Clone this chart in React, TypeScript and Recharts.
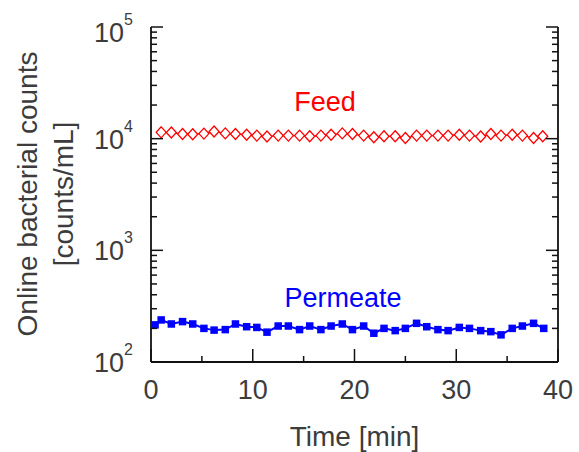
import React from 'react';
import { LineChart, Line, XAxis, YAxis, Customized } from 'recharts';

// Sampling times [min]
const feedTimes = [1.0, 2.0, 3.1, 4.1, 5.2, 6.2, 7.3, 8.3, 9.4, 10.4, 11.4, 12.5, 13.5, 14.6, 15.6, 16.7, 17.7, 18.8, 19.8, 20.9, 21.9, 22.9, 24.0, 25.0, 26.1, 27.1, 28.2, 29.2, 30.3, 31.3, 32.4, 33.4, 34.4, 35.5, 36.5, 37.6, 38.5];
const permeateTimes = [0.4, 1.0, 2.0, 3.1, 4.1, 5.2, 6.2, 7.3, 8.3, 9.4, 10.4, 11.4, 12.5, 13.5, 14.6, 15.6, 16.7, 17.7, 18.8, 19.8, 20.9, 21.9, 22.9, 24.0, 25.0, 26.1, 27.1, 28.2, 29.2, 30.3, 31.3, 32.4, 33.4, 34.4, 35.5, 36.5, 37.6, 38.6];

// Online bacterial counts [counts/mL]
const feedCounts = [11400, 11350, 11000, 10950, 11100, 11600, 11150, 11000, 10850, 10650, 10450, 10650, 10650, 10650, 10500, 10650, 10850, 11150, 11000, 10650, 10300, 10500, 10500, 10150, 10650, 10650, 10650, 10650, 10850, 10650, 10450, 11000, 10650, 10850, 10650, 10150, 10500];
const permeateCounts = [215, 238, 219, 230, 219, 200, 193, 195, 219, 207, 204, 185, 210, 210, 195, 210, 195, 210, 219, 195, 210, 181, 200, 191, 200, 222, 207, 195, 191, 204, 200, 191, 187, 175, 200, 210, 222, 200];

const xMajorTicks = [0, 10, 20, 30, 40];
const xTicks = [0, 5, 10, 15, 20, 25, 30, 35, 40];
const yTicks = [
  100, 200, 300, 400, 500, 600, 700, 800, 900,
  1000, 2000, 3000, 4000, 5000, 6000, 7000, 8000, 9000,
  10000, 20000, 30000, 40000, 50000, 60000, 70000, 80000, 90000,
  100000,
];

const feedData = feedTimes.map((t, i) => ({ t, v: feedCounts[i] }));
const permeateData = permeateTimes.map((t, i) => ({ t, v: permeateCounts[i] }));

const FONT = '"Liberation Sans", Arial, Helvetica, sans-serif';
const TEXT = '#3c3c3c';
const FRAME = '#111';
const FEED = '#ff0000';
const PERM = '#0000ff';

const isMajorX = (v: number) => xMajorTicks.includes(v);
const decade = (v: number) => {
  const e = Math.round(Math.log10(v));
  return Math.abs(Math.pow(10, e) - v) < 1e-6 ? e : null;
};

const BottomTick = (props: any) => {
  const { x, y, payload } = props;
  const major = isMajorX(payload.value);
  return (
    <g>
      <line x1={x} x2={x} y1={y} y2={y - (major ? 13 : 6)} stroke={FRAME} strokeWidth={1.5} />
      {major && (
        <text x={x} y={y + 37} textAnchor="middle" fontSize={27} fill={TEXT} fontFamily={FONT}>
          {payload.value}
        </text>
      )}
    </g>
  );
};

const TopTick = (props: any) => {
  const { x, y, payload } = props;
  const major = isMajorX(payload.value);
  return <line x1={x} x2={x} y1={y} y2={y + (major ? 13 : 6)} stroke={FRAME} strokeWidth={1.5} />;
};

const LeftTick = (props: any) => {
  const { x, y, payload } = props;
  const e = decade(payload.value);
  const major = e !== null;
  const base = y + 10 + (e === 5 ? 5 : 0);
  return (
    <g>
      <line x1={x} x2={x + (major ? 12 : 6)} y1={y} y2={y} stroke={FRAME} strokeWidth={1.5} />
      {major && (
        <text x={x - 18} y={base} textAnchor="end" fontSize={27} fill={TEXT} fontFamily={FONT}>
          10
          <tspan fontSize={16} dy={-17}>{e}</tspan>
        </text>
      )}
    </g>
  );
};

const RightTick = (props: any) => {
  const { x, y, payload } = props;
  const major = decade(payload.value) !== null;
  return <line x1={x} x2={x - (major ? 12 : 6)} y1={y} y2={y} stroke={FRAME} strokeWidth={1.5} />;
};

const FeedDot = (props: any) => {
  const { cx, cy, index } = props;
  if (cx == null || cy == null) return <g key={`fd-${index}`} />;
  const w = 5;
  const h = 5.5;
  return (
    <path
      key={`fd-${index}`}
      d={`M${cx},${cy - h} L${cx + w},${cy} L${cx},${cy + h} L${cx - w},${cy} Z`}
      fill="#fff"
      stroke={FEED}
      strokeWidth={1.3}
    />
  );
};

const PermDot = (props: any) => {
  const { cx, cy, index } = props;
  if (cx == null || cy == null) return <g key={`pd-${index}`} />;
  const s = 7.5;
  return <rect key={`pd-${index}`} x={cx - s / 2} y={cy - s / 2} width={s} height={s} fill={PERM} />;
};

const Annotations = () => (
  <g fontFamily={FONT}>
    <text x={325} y={111} textAnchor="middle" fontSize={27} fill={FEED}>Feed</text>
    <text x={343} y={307} textAnchor="middle" fontSize={27} fill={PERM}>Permeate</text>
    <text transform="translate(37,194) rotate(-90)" textAnchor="middle" fontSize={28} fill={TEXT}>
      Online bacterial counts
    </text>
    <text transform="translate(73,194) rotate(-90)" textAnchor="middle" fontSize={28} fill={TEXT}>
      [counts/mL]
    </text>
  </g>
);

export default function App() {
  return (
    <div style={{ position: 'absolute', left: 0, top: 0, width: 579, height: 452, background: '#fff' }}>
      <LineChart width={579} height={452} margin={{ top: 27, right: 0, bottom: 0, left: 0 }}>
        <XAxis
          dataKey="t"
          type="number"
          domain={[0, 40]}
          ticks={xTicks}
          interval={0}
          allowDataOverflow
          height={90}
          tickSize={0}
          tickMargin={0}
          tick={<BottomTick />}
          axisLine={{ stroke: FRAME, strokeWidth: 1.8 }}
          label={{ value: 'Time [min]', position: 'insideBottom', offset: 6, fontSize: 28, fill: TEXT, fontFamily: FONT }}
        />
        <XAxis
          xAxisId="top"
          dataKey="t"
          type="number"
          orientation="top"
          domain={[0, 40]}
          ticks={xTicks}
          interval={0}
          allowDataOverflow
          height={0}
          tickSize={0}
          tickMargin={0}
          tick={<TopTick />}
          axisLine={{ stroke: FRAME, strokeWidth: 1.8 }}
        />
        <YAxis
          dataKey="v"
          scale="log"
          domain={[100, 100000]}
          ticks={yTicks}
          interval={0}
          allowDataOverflow
          width={151}
          tickSize={0}
          tickMargin={0}
          tick={<LeftTick />}
          axisLine={{ stroke: FRAME, strokeWidth: 1.8 }}
        />
        <YAxis
          yAxisId="right"
          orientation="right"
          scale="log"
          domain={[100, 100000]}
          ticks={yTicks}
          interval={0}
          allowDataOverflow
          width={21}
          tickSize={0}
          tickMargin={0}
          tick={<RightTick />}
          axisLine={{ stroke: FRAME, strokeWidth: 1.8 }}
        />
        <Line
          data={feedData}
          dataKey="v"
          stroke={FEED}
          strokeWidth={1.3}
          dot={FeedDot}
          activeDot={false}
          isAnimationActive={false}
        />
        <Line
          data={permeateData}
          dataKey="v"
          stroke={PERM}
          strokeWidth={2}
          dot={PermDot}
          activeDot={false}
          isAnimationActive={false}
        />
        <Customized component={Annotations} />
      </LineChart>
    </div>
  );
}
